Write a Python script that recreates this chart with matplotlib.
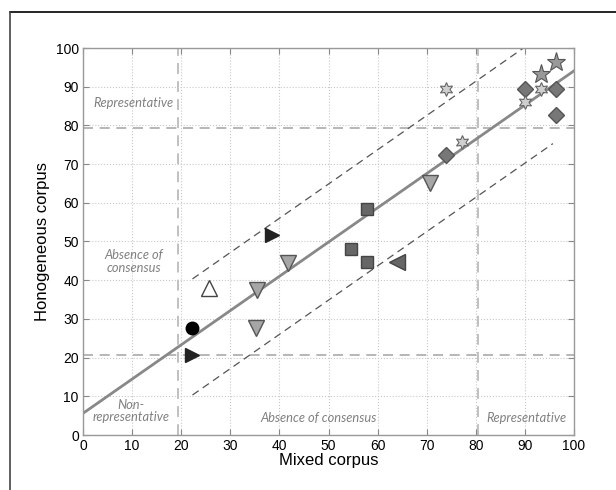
import numpy as np
import matplotlib.pyplot as plt
from matplotlib.lines import Line2D

# point groups (mixed corpus, homogeneous corpus)
circle_x = [22.3]
circle_y = [27.7]
tri_right_x = [22.3, 38.5]
tri_right_y = [20.7, 51.7]
tri_up_x = [25.6]
tri_up_y = [38.0]
tri_down_x = [35.5, 35.3, 41.8, 70.7]
tri_down_y = [37.5, 27.7, 44.5, 65.0]
square_x = [54.6, 57.9, 57.9]
square_y = [48.1, 44.6, 58.4]
tri_left_x = [64.0]
tri_left_y = [44.6]
diamond_x = [73.9, 90.1, 96.4, 96.4]
diamond_y = [72.3, 89.5, 89.5, 82.6]
hexa_x = [73.9, 77.1, 90.1, 93.2]
hexa_y = [89.5, 75.7, 86.0, 89.5]
star_x = [93.2, 96.4]
star_y = [93.2, 96.3]

# regression line and +/- band
intercept = 5.6
slope = 0.885
band = 15.0
v_lines = [19.3, 80.5]
h_lines = [20.7, 79.3]

fig = plt.figure(figsize=(6.16, 4.90), dpi=100)
ax = fig.add_axes([83/616, 1-435/490, (574-83)/616, (435-48)/490])

# outer frame (top and left only)
fig.add_artist(Line2D([10/616, 1], [1-12/490, 1-12/490], color='black', lw=1.2, transform=fig.transFigure))
fig.add_artist(Line2D([10/616, 10/616], [0, 1-12/490], color='#444444', lw=1.2, transform=fig.transFigure))

ax.set_xlim(0, 100)
ax.set_ylim(0, 100)
ax.set_xticks(np.arange(0, 101, 10))
ax.set_yticks(np.arange(0, 101, 10))
ax.grid(True, linestyle=':', color='#c8c8c8', lw=0.8)
ax.tick_params(direction='in', top=True, right=True, length=4, color='#888888',
               labelsize=10, pad=3)
for lab in ax.get_xticklabels() + ax.get_yticklabels():
    lab.set_fontfamily('Liberation Sans')
for sp in ax.spines.values():
    sp.set_color('#999999')
    sp.set_linewidth(1.0)

# quadrant separators
for v in v_lines:
    ax.axvline(v, color='#bbbbbb', lw=1.3, ls=(0, (6, 4)), zorder=1)
for h in h_lines:
    ax.axhline(h, color='#aaaaaa', lw=1.2, ls=(0, (6, 4)), zorder=1)

# regression line and band
xs = np.array([0, 100])
ax.plot(xs, intercept + slope * xs, color='#888888', lw=2, zorder=2)
xu = np.array([22.3, (100 - intercept - band) / slope])
ax.plot(xu, intercept + band + slope * xu, color='#555555', lw=0.9, ls=(0, (6, 4)), zorder=2)
xl = np.array([22.3, 95.7])
ax.plot(xl, intercept - band + slope * xl, color='#555555', lw=0.9, ls=(0, (6, 4)), zorder=2)

# markers
ax.plot(circle_x, circle_y, 'o', ms=9, mfc='black', mec='black', zorder=3)
ax.plot(tri_right_x, tri_right_y, '>', ms=10, mfc='#222222', mec='#222222', zorder=3)
ax.plot(tri_up_x, tri_up_y, '^', ms=11, mfc='white', mec='#444444', mew=1, zorder=3)
ax.plot(tri_down_x, tri_down_y, 'v', ms=11, mfc='#a6a6a6', mec='#555555', mew=1, zorder=3)
ax.plot(square_x, square_y, 's', ms=8, mfc='#666666', mec='#444444', mew=1, zorder=3)
ax.plot(tri_left_x, tri_left_y, '<', ms=11, mfc='#666666', mec='#444444', mew=1, zorder=3)
ax.plot(diamond_x, diamond_y, 'D', ms=8.5, mfc='#777777', mec='#555555', mew=1, zorder=3)
ax.plot(hexa_x, hexa_y, marker=(6, 1, 0), ls='none', ms=10, mfc='#cfcfcf', mec='#666666', mew=0.8, zorder=3)
ax.plot(star_x, star_y, '*', ms=14, mfc='#999999', mec='#555555', mew=0.8, zorder=3)

# zone labels
lab_kw = dict(fontfamily='Lato', style='italic', color='#808080', fontsize=9.3, ha='center')
ax.text(10.3, 85.9, 'Representative', va='center', **lab_kw)
ax.text(10.3, 44.9, 'Absence of\nconsensus', va='center', linespacing=1.1, **lab_kw)
ax.text(9.8, 6.2, 'Non-\nrepresentative', va='center', linespacing=0.95, **lab_kw)
ax.text(47.9, 4.5, 'Absence of consensus', va='center', **lab_kw)
ax.text(90.3, 4.5, 'Representative', va='center', **lab_kw)

ax.set_xlabel('Mixed corpus', fontfamily='Liberation Sans', fontsize=12, labelpad=0)
ax.set_ylabel('Honogeneous corpus', fontfamily='Liberation Sans', fontsize=12, labelpad=4)

fig.savefig('out.png', dpi=100)
